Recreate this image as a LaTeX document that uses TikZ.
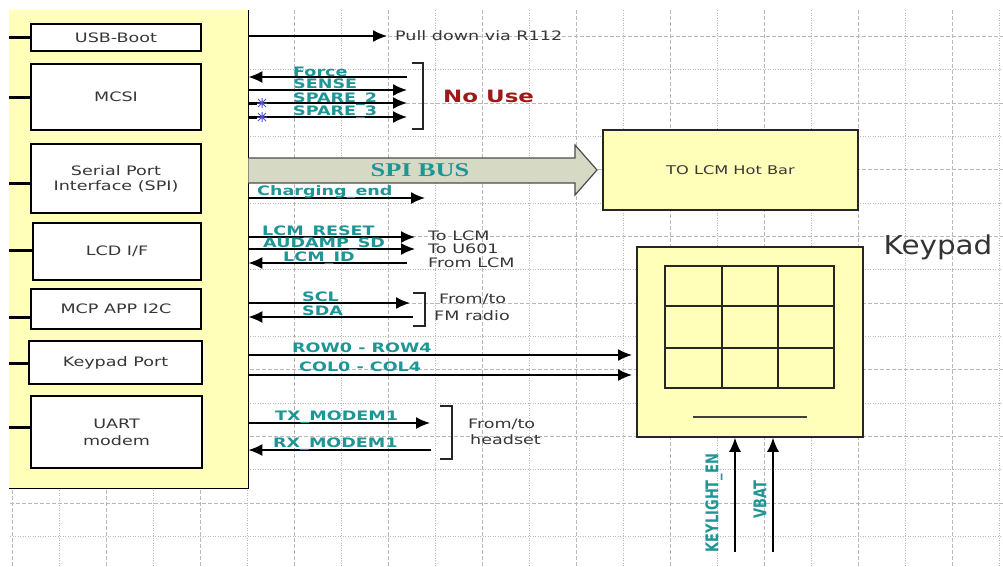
\documentclass[tikz,border=0pt]{standalone}
\usepackage{fontspec}
\setmainfont{DejaVu Sans}
\newfontfamily\serifb{Liberation Serif}
\usetikzlibrary{arrows.meta,calc}
\definecolor{chipyellow}{RGB}{255,255,185}
\definecolor{teal2}{RGB}{30,150,150}
\definecolor{nouse}{RGB}{160,25,25}
\definecolor{txtgray}{RGB}{55,55,55}
\definecolor{gridc}{RGB}{185,185,185}
\definecolor{busfill}{RGB}{214,218,196}
\definecolor{markblue}{RGB}{80,80,210}
\newcommand{\sx}[1]{\scalebox{1.35}[1]{#1}}
\begin{document}
\begin{tikzpicture}[x=1pt,y=-1pt,
  gdash/.style={draw=gridc,line width=0.8pt,dash pattern=on 4pt off 2pt},
  gdot/.style={draw=gridc,line width=0.8pt,dash pattern=on 1pt off 1.5pt},
  box/.style={draw=black,line width=1.4pt,fill=white,inner sep=0pt,text=txtgray,
    font=\fontsize{13}{15}\selectfont,align=center},
  ybox/.style={draw=black!85,line width=1.5pt,fill=chipyellow,inner sep=0pt,text=txtgray,
    font=\fontsize{12}{14}\selectfont},
  stub/.style={line width=3pt,black},
  sig/.style={line width=1.6pt,-{Latex[length=14pt,width=12pt]}},
  lab/.style={text=teal2,font=\bfseries\fontsize{13}{13}\selectfont,inner sep=0pt,anchor=base west},
  glab/.style={text=txtgray,font=\fontsize{13}{13}\selectfont,inner sep=0pt,anchor=west},
  brk/.style={line width=1.4pt,black!85}]
\useasboundingbox (0,0) rectangle (1003,566);
\fill[white] (0,0) rectangle (1003,566);
% grid
\foreach \k in {0,...,21}{
  \pgfmathsetmacro\gx{12+47*\k}
  \ifodd\k \draw[gdot] (\gx,10) -- (\gx,566); \else \draw[gdash] (\gx,10) -- (\gx,566); \fi
}
\foreach \k in {1,...,16}{
  \pgfmathsetmacro\gy{3+33.333*\k}
  \ifodd\k \draw[gdash] (10,\gy) -- (1003,\gy); \else \draw[gdot] (10,\gy) -- (1003,\gy); \fi
}
% chip block
\node[fill=chipyellow,minimum width=239pt,minimum height=478pt,inner sep=0pt,anchor=north west] (chip) at (9,10) {};
\draw[line width=1.8pt] (chip.north east) -- (chip.south east) -- (chip.south west);
% inner boxes
\node[box,minimum width=170pt,minimum height=27pt] (usb) at (116,37.5) {\sx{USB-Boot}};
\node[box,minimum width=170pt,minimum height=66pt] (mcsi) at (116,97) {\sx{MCSI}};
\node[box,minimum width=170pt,minimum height=69pt] (spi) at (116,178.5) {\sx{Serial Port}\\\sx{Interface (SPI)}};
\node[box,minimum width=168pt,minimum height=57pt] (lcd) at (117,251.5) {\sx{LCD I/F}};
\node[box,minimum width=170pt,minimum height=40pt] (i2c) at (116,309) {\sx{MCP APP I2C}};
\node[box,minimum width=173pt,minimum height=43pt] (kp) at (115.5,362.5) {\sx{Keypad Port}};
\node[box,minimum width=171pt,minimum height=72pt,font=\fontsize{13}{17}\selectfont] (uart) at (116.5,432) {\sx{UART}\\\sx{modem}};
% stubs
\draw[stub] (chip.west |- 0,37) -- (usb.west |- 0,37);
\draw[stub] (chip.west |- 0,97) -- (mcsi.west |- 0,97);
\draw[stub] (chip.west |- 0,183) -- (spi.west |- 0,183);
\draw[stub] (chip.west |- 0,250) -- (lcd.west |- 0,250);
\draw[stub] (chip.west |- 0,317) -- (i2c.west |- 0,317);
\draw[stub] (chip.west |- 0,363) -- (kp.west |- 0,363);
\draw[stub] (chip.west |- 0,427) -- (uart.west |- 0,427);
% right-side boxes
\node[ybox,minimum width=255pt,minimum height=80pt] (hotbar) at (730.5,170) {\sx{TO LCM Hot Bar}};
\node[ybox,minimum width=226pt,minimum height=190pt] (kpad) at (750,342) {};
\node[draw=black!85,line width=1.4pt,minimum width=169pt,minimum height=122pt,inner sep=0pt] (keys) at (749.5,327) {};
\draw[line width=1.4pt,black!85] (722,266) -- (722,388) (778,266) -- (778,388)
  (665,306) -- (834,306) (665,348) -- (834,348);
\draw[line width=1.5pt,black!75] (693,417) -- (807,417);
\node[text=black!80,font=\fontsize{26}{26}\selectfont,inner sep=0pt] (kpadlab) at (938,247) {\scalebox{1.13}[1]{Keypad}};
% SPI bus arrow
\coordinate (busTip) at (597,170);
\draw[fill=busfill,draw=black!70,line width=1.2pt] (chip.east |- 0,158) -- (575,158) -- (575,145) -- (busTip) -- (575,195) -- (575,183) -- (chip.east |- 0,183);
\node[text=teal2,font=\serifb\bfseries\fontsize{19.5}{19.5}\selectfont,inner sep=0pt] (spibus) at (420,170) {\sx{SPI BUS}};
% USB boot
\coordinate (pdE) at (387,36);
\draw[sig] (chip.east |- pdE) -- (pdE);
\node[glab] (pdlab) at (395,36) {\sx{Pull down via R112}};
% MCSI signals
\coordinate (forceS) at (407,77);
\coordinate (senseE) at (407,90);
\coordinate (spare2E) at (407,103);
\coordinate (spare3E) at (407,117);
\draw[sig] (forceS) -- (chip.east |- forceS);
\draw[sig] (chip.east |- senseE) -- (senseE);
\draw[sig] (chip.east |- spare2E) -- (spare2E);
\draw[sig] (chip.east |- spare3E) -- (spare3E);
\foreach \yy in {103,117}{
  \draw[line width=3pt] (248,\yy) -- (257,\yy);
  \draw[markblue,line width=1pt] (258,\yy-4) -- (266,\yy+4) (258,\yy+4) -- (266,\yy-4)
    (257,\yy) -- (267,\yy) (262,\yy-5) -- (262,\yy+5);
}
\node[lab] (lforce) at (293,76) {\sx{Force}};
\node[lab] (lsense) at (293,88.5) {\sx{SENSE}};
\node[lab] (lspare2) at (293,102) {\sx{SPARE\_2}};
\node[lab] (lspare3) at (293,115.5) {\sx{SPARE\_3}};
\draw[brk] (412,63) -- (423,63) -- (423,129) -- (412,129);
\node[text=nouse,font=\bfseries\fontsize{17}{17}\selectfont,inner sep=0pt,anchor=west] (nouselab) at (443,96) {\sx{No Use}};
% charging end
\coordinate (chgE) at (425,198);
\draw[sig] (chip.east |- chgE) -- (chgE);
\node[lab] (lchg) at (257,195.5) {\sx{Charging\_end}};
% LCD signals
\coordinate (lcmrE) at (415,237);
\coordinate (audE) at (415,249);
\coordinate (lcmidS) at (407,263);
\draw[sig] (chip.east |- lcmrE) -- (lcmrE);
\draw[sig] (chip.east |- audE) -- (audE);
\draw[sig] (lcmidS) -- (chip.east |- lcmidS);
\node[lab] (llcmr) at (262,235.5) {\sx{LCM\_RESET}};
\node[lab] (laud) at (263,247.5) {\sx{AUDAMP\_SD}};
\node[lab] (llcmid) at (283,261.5) {\sx{LCM\_ID}};
\node[glab] (tolcm) at (428,236) {\sx{To LCM}};
\node[glab] (tou601) at (428,249) {\sx{To U601}};
\node[glab] (fromlcm) at (428,262.5) {\sx{From LCM}};
% I2C
\coordinate (sclE) at (410,303);
\coordinate (sdaS) at (413,317);
\draw[sig] (chip.east |- sclE) -- (sclE);
\draw[sig] (sdaS) -- (chip.east |- sdaS);
\node[lab] (lscl) at (302,301.5) {\sx{SCL}};
\node[lab] (lsda) at (302,315) {\sx{SDA}};
\draw[brk] (413,293) -- (425,293) -- (425,326) -- (413,326);
\node[glab] (fmto) at (439,299) {\sx{From/to}};
\node[glab] (fmradio) at (434,315.5) {\sx{FM radio}};
% keypad
\coordinate (rowE) at (632,355);
\coordinate (colE) at (632,375);
\draw[sig] (chip.east |- rowE) -- (rowE);
\draw[sig] (chip.east |- colE) -- (colE);
\node[lab] (lrow) at (292,352.5) {\sx{ROW0 - ROW4}};
\node[lab] (lcol) at (299,371.5) {\sx{COL0 - COL4}};
% UART
\coordinate (txE) at (430,423);
\coordinate (rxS) at (431,450);
\draw[sig] (chip.east |- txE) -- (txE);
\draw[sig] (rxS) -- (chip.east |- rxS);
\node[lab] (ltx) at (275,420.5) {\sx{TX\_MODEM1}};
\node[lab] (lrx) at (273,447.5) {\sx{RX\_MODEM1}};
\draw[brk] (440,406) -- (452,406) -- (452,459) -- (440,459);
\node[glab] (hsto) at (468,424) {\sx{From/to}};
\node[glab] (headset) at (470,440) {\sx{headset}};
% keypad supply arrows
\coordinate (klS) at (735,552);
\coordinate (vbS) at (773,552);
\draw[sig] (klS) -- (klS |- kpad.south);
\draw[sig] (vbS) -- (vbS |- kpad.south);
\node[text=teal2,font=\bfseries\fontsize{13}{13}\selectfont,inner sep=0pt,rotate=90] (lkl) at (714,503) {\scalebox{1}[1.35]{KEYLIGHT\_EN}};
\node[text=teal2,font=\bfseries\fontsize{13}{13}\selectfont,inner sep=0pt,rotate=90] (lvb) at (760,500) {\scalebox{1}[1.35]{VBAT}};
\end{tikzpicture}
\end{document}
